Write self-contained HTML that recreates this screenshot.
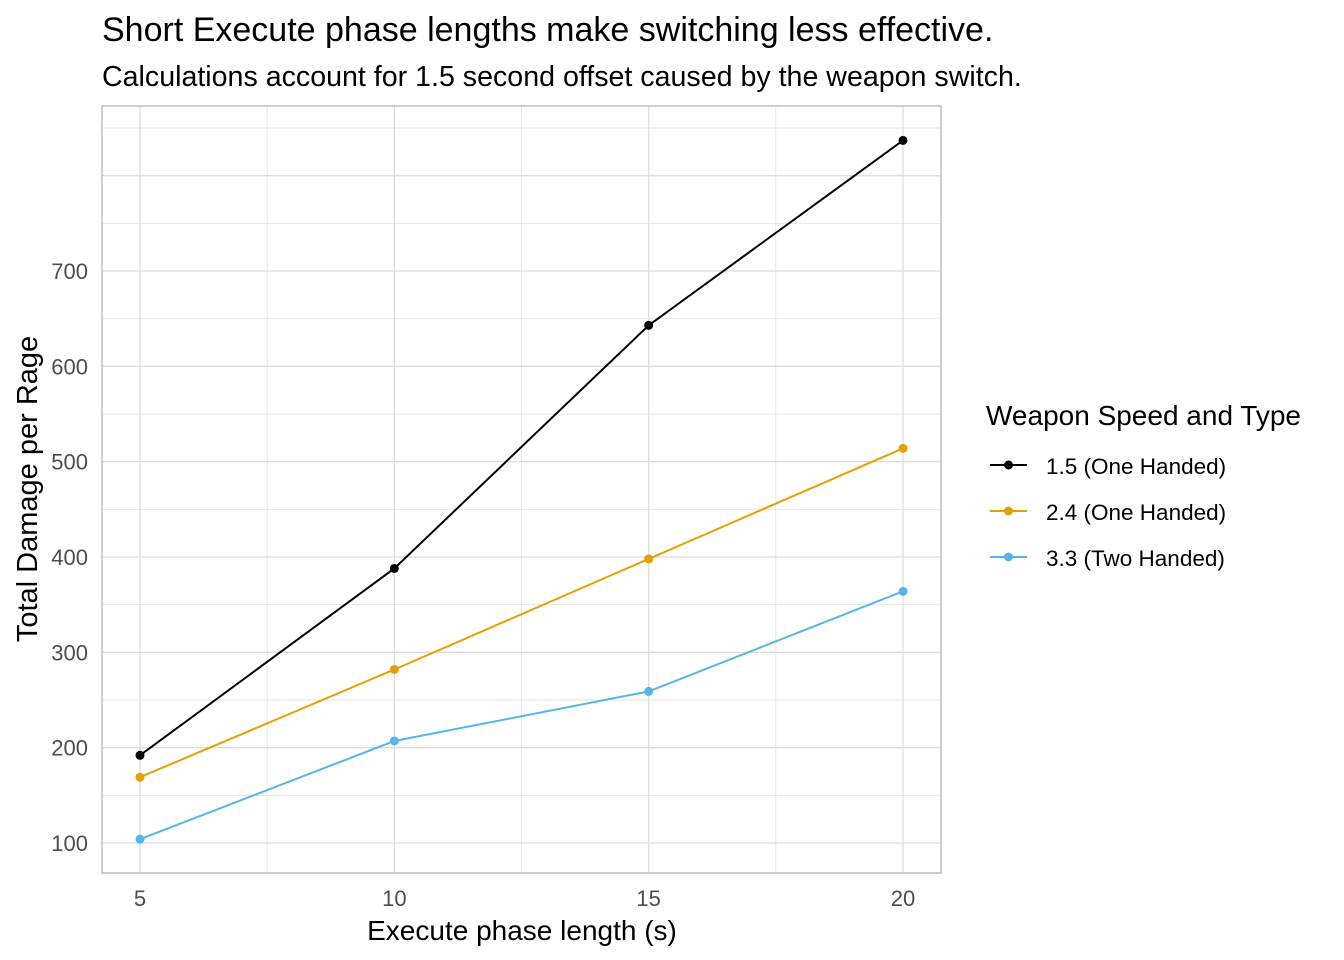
<!DOCTYPE html>
<html><head><meta charset="utf-8"><style>
body{margin:0;background:#fff;}
svg{display:block;font-family:"Liberation Sans",Arial,sans-serif;}
</style></head><body>
<svg width="1344" height="960">
<text x="102" y="41" font-size="34" fill="#000">Short Execute phase lengths make switching less effective.</text>
<text x="102" y="86" font-size="28.6" fill="#000">Calculations account for 1.5 second offset caused by the weapon switch.</text>
<g id="grid"></g>
<rect x="102" y="106" width="839" height="767" fill="none" stroke="#b3b3b3" stroke-width="1.3"/>
<g id="series"></g>
<g id="axes"></g>
<text x="522" y="940" font-size="28" text-anchor="middle">Execute phase length (s)</text>
<text transform="translate(37,489) rotate(-90)" font-size="29" text-anchor="middle">Total Damage per Rage</text>
<g>
<text x="986" y="425" font-size="28">Weapon Speed and Type</text>
<g id="legend"></g>
</g>
</svg>
<script>
const categories=[5,10,15,20];
const seriesNames=["1.5 (One Handed)","2.4 (One Handed)","3.3 (Two Handed)"];
const s1=[192,388,643,837];
const s2=[169,282,398,514];
const s3=[104,207,259,364];
const yTicks=[100,200,300,400,500,600,700];
const xTicks=[5,10,15,20];
const colors=["#000000","#E69F00","#56B4E9"];
const NS="http://www.w3.org/2000/svg";
function X(v){return 140+(v-5)*(903-140)/15;}
function Y(v){return 843-(v-100)*(843-271)/600;}
function mk(t,a,p){const e=document.createElementNS(NS,t);for(const k in a)e.setAttribute(k,a[k]);p.appendChild(e);return e;}
const grid=document.getElementById('grid');
for(let v=50;v<=900;v+=50){const y=Y(v);if(y<106||y>873)continue;
 const l=mk('line',{x1:102,x2:941,y1:y,y2:y,stroke:'#dedede','stroke-width':v%100?0.7:1.3},grid);
 
 }
for(let v=5;v<=20;v+=2.5){const x=X(v);
 const l=mk('line',{x1:x,x2:x,y1:106,y2:873,stroke:'#dedede','stroke-width':v%5?0.7:1.3},grid);
 
 }
const axes=document.getElementById('axes');
yTicks.forEach(v=>{const t=mk('text',{x:88,y:Y(v)+8,'font-size':22,fill:'#4d4d4d','text-anchor':'end'},axes);t.textContent=v;
 
 });
xTicks.forEach(v=>{const t=mk('text',{x:X(v),y:906,'font-size':22,fill:'#4d4d4d','text-anchor':'middle'},axes);t.textContent=v;
 
 });
const ser=document.getElementById('series');
[s1,s2,s3].forEach((d,i)=>{
 const p=mk('polyline',{points:d.map((v,j)=>X(categories[j])+','+Y(v)).join(' '),fill:'none',stroke:colors[i],'stroke-width':2},ser);
 
 
 d.forEach((v,j)=>{const c=mk('circle',{cx:X(categories[j]),cy:Y(v),r:4.5,fill:colors[i]},ser);
  
  });
});
const lg=document.getElementById('legend');
seriesNames.forEach((n,i)=>{const y=465+i*46;
 const l=mk('line',{x1:990,x2:1027,y1:y,y2:y,stroke:colors[i],'stroke-width':2},lg);
 
 
 const c=mk('circle',{cx:1008.5,cy:y,r:4.5,fill:colors[i]},lg);
 
 
 const t=mk('text',{x:1046,y:y+9,'font-size':22.5},lg);t.textContent=n;
 
 });
</script>
</body></html>
